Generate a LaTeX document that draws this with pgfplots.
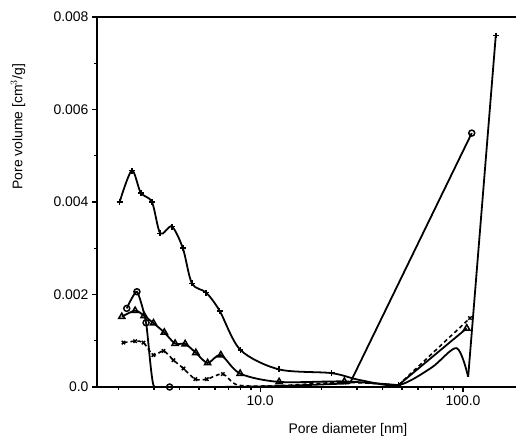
\documentclass[border=0pt]{standalone}
\usepackage{fontspec}
\setmainfont{Liberation Sans}
\usepackage{pgfplots}
\pgfplotsset{compat=1.18}
\usetikzlibrary{calc}
\begin{document}
\begin{tikzpicture}[font=\fontsize{14}{16}\selectfont]
\begin{axis}[
  scale only axis,
  width=419bp, height=370bp,
  xmode=log,
  xmin=1.57, xmax=182.4,
  ymin=0, ymax=0.008,
  axis lines=left,
  axis line style={-, line width=1.5pt},
  tick align=outside,
  major tick length=5bp, minor tick length=3bp,
  every tick/.style={black, line width=1.3pt},
  xtick={10,100}, xticklabels={10.0,100.0},
  minor xtick={2,3,4,5,6,7,8,9,20,30,40,50,60,70,80,90,200},
  ytick={0,0.002,0.004,0.006,0.008},
  yticklabels={0.0,0.002,0.004,0.006,0.008},
  minor ytick={0.001,0.003,0.005,0.007},
  scaled y ticks=false,
  /pgf/number format/assume math mode=true,
  tick label style={font=\fontsize{14}{16}\selectfont},
  label style={font=\fontsize{14}{16}\selectfont},
  xlabel={Pore diameter [nm]},
  ylabel={Pore volume [cm$^3$/g]},
  xlabel style={at={(axis description cs:0.599,-0.116)}, anchor=center},
  ylabel style={at={(axis description cs:-0.1885,0.703)}, anchor=center},
  clip=true,
]
\coordinate (sw) at (rel axis cs:0,0);
\coordinate (ne) at (rel axis cs:1,1);
\draw[line width=1.5pt] (rel axis cs:0,1) -- (rel axis cs:1,1);

% + series
\addplot[black, line width=1.8pt, smooth, tension=0.5, no markers] coordinates {
(2.03,0.0040)(2.33,0.00468)(2.58,0.0042)(2.93,0.0040)(3.22,0.00332)(3.67,0.00347)
(4.16,0.0030)(4.61,0.00224)(5.42,0.00204)(6.31,0.00165)(8.0,0.0008)(12.4,0.00038)
(22.5,0.0003)(31,0.00015)(48,0.00004)(70,0.00042)(93,0.00084)(106,0.00022)};
\addplot[black, line width=1.8pt, no markers] coordinates {(106,0.00022)(145,0.0076)};
\addplot[only marks, mark=+, mark size=3pt, line width=1.7pt] coordinates {
(2.03,0.0040)(2.33,0.00468)(2.58,0.0042)(2.93,0.0040)(3.22,0.00332)(3.67,0.00347)
(4.16,0.0030)(4.61,0.00224)(5.42,0.00204)(6.31,0.00165)(8.0,0.0008)(12.4,0.00038)
(22.5,0.0003)(48,0.00004)(145,0.0076)};

% o series
\addplot[black, line width=1.8pt, smooth, tension=0.35, no markers] coordinates {
(2.2,0.0017)(2.47,0.00206)(2.74,0.00139)(2.98,0.00004)(3.58,0.0)(6,0.0)(12.4,0.00002)(27.7,0.00008)};
\addplot[black, line width=1.8pt, no markers] coordinates {(27.7,0.00008)(110.4,0.00549)};
\addplot[only marks, mark=o, mark size=3pt, line width=1.5pt, mark options={fill=white}] coordinates {
(2.2,0.0017)(2.47,0.00206)(2.74,0.00139)(3.58,0.0)(110.4,0.00549)};

% triangle series
\addplot[black, line width=1.8pt, smooth, tension=0.5, no markers] coordinates {
(2.08,0.00152)(2.42,0.00165)(2.68,0.00154)(2.98,0.00138)(3.37,0.00118)(3.81,0.00094)
(4.27,0.00093)(4.82,0.00074)(5.51,0.00052)(6.4,0.00069)(7.97,0.00029)(12.4,0.00011)
(26,0.00012)(48,0.00004)};
\addplot[black, line width=1.8pt, no markers] coordinates {(48,0.00004)(104.3,0.00127)};
\addplot[only marks, mark=triangle, mark size=3.6pt, line width=1.5pt, mark options={fill=white}] coordinates {
(2.08,0.00152)(2.42,0.00165)(2.68,0.00154)(2.98,0.00138)(3.37,0.00118)(3.81,0.00094)
(4.27,0.00093)(4.82,0.00074)(5.51,0.00052)(6.4,0.00069)(7.97,0.00029)(12.4,0.00011)
(26,0.00012)(104.3,0.00127)};

% x series (dashed)
\addplot[black, line width=1.6pt, dash pattern=on 4pt off 3pt, smooth, tension=0.5, no markers] coordinates {
(2.12,0.00096)(2.42,0.00099)(2.66,0.00096)(2.98,0.00069)(3.34,0.00078)(3.74,0.00058)
(4.19,0.0004)(4.79,0.00017)(5.46,0.00017)(6.55,0.00028)(7.8,0.00004)(12.4,0.00003)
(26,0.0001)(48,0.00004)};
\addplot[black, line width=1.6pt, dash pattern=on 4pt off 3pt, no markers] coordinates {(48,0.00004)(108.2,0.00149)};
\addplot[only marks, mark=x, mark size=2.4pt, line width=1.5pt] coordinates {
(2.12,0.00096)(2.42,0.00099)(2.66,0.00096)(2.98,0.00069)(3.34,0.00078)(3.74,0.00058)
(4.19,0.0004)(4.79,0.00017)(5.46,0.00017)(6.55,0.00028)(26,0.0001)(108.2,0.00149)};
\end{axis}
\pgfresetboundingbox
\path ($(sw)+(-97bp,-52bp)$) rectangle ($(ne)+(0bp,17bp)$);
\end{tikzpicture}
\end{document}
